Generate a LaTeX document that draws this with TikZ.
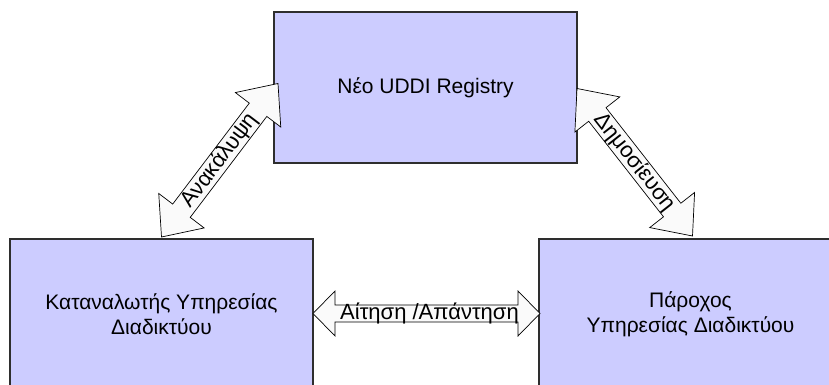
\documentclass[tikz,border=0pt]{standalone}
\usepackage{fontspec}
\setmainfont{Liberation Sans}
\usetikzlibrary{calc}

\definecolor{boxfill}{HTML}{CCCCFF}
\definecolor{boxline}{HTML}{2E2E2E}
\definecolor{arrowfill}{HTML}{FAFAFA}

% Outlined double-headed block arrow between two named points.
% #1 prefix, #2 from, #3 to, #4 head length, #5 head half-width, #6 shaft half-width
\newcommand\blockarrow[6]{%
  \coordinate (#1-a) at ($(#2)!#4!(#3)$);
  \coordinate (#1-b) at ($(#3)!#4!(#2)$);
  \draw[blockarrow] (#2)
    -- ($(#1-a)!#5!90:(#3)$) -- ($(#1-a)!#6!90:(#3)$)
    -- ($(#1-b)!#6!-90:(#2)$) -- ($(#1-b)!#5!-90:(#2)$)
    -- (#3)
    -- ($(#1-b)!#5!90:(#2)$) -- ($(#1-b)!#6!90:(#2)$)
    -- ($(#1-a)!#6!-90:(#3)$) -- ($(#1-a)!#5!-90:(#3)$)
    -- cycle;
}

\begin{document}
\begin{tikzpicture}[x=1pt,y=-1pt,
  service/.style={draw=boxline, line width=1.1pt, fill=boxfill,
    minimum width=303pt, minimum height=151pt, inner sep=0pt, outer sep=0pt,
    align=center, font=\fontsize{21}{25}\selectfont},
  blockarrow/.style={draw=black, line width=0.7pt, fill=arrowfill, line join=miter},
  arrowlabel/.style={font=\fontsize{22}{26}\selectfont, inner sep=0pt}]
\useasboundingbox (0,0) rectangle (829,385);
\clip (0,0) rectangle (829,385);

% the three parties
\node[service] (registry) at (425.5,87.5) {Νέο UDDI Registry};
\node[service] (consumer) at (161.5,314.5) {Καταναλωτής Υπηρεσίας\\Διαδικτύου};
\node[service] (provider) at (690.5,314.5) {Πάροχος\\Υπηρεσίας Διαδικτύου};

% arrow end points
\coordinate (find-lo) at ($(consumer.north)+(0,-2)$);
\coordinate (find-hi) at ($(registry.west)+(4,-4)$);
\coordinate (pub-hi)  at ($(registry.east)+(0,1)$);
\coordinate (pub-lo)  at ($(provider.north)+(2,-3)$);
\coordinate (req-l)   at ($(consumer.east)+(0,-1)$);
\coordinate (req-r)   at ($(provider.west)+(1,-1)$);

% block arrows
\blockarrow{find}{find-lo}{find-hi}{33pt}{28.5pt}{11pt}
\blockarrow{pub}{pub-hi}{pub-lo}{33pt}{28.5pt}{11pt}
\blockarrow{req}{req-l}{req-r}{22pt}{22.5pt}{8.5pt}

% arrow labels
\node[arrowlabel, rotate=52.8] (findlabel) at ($(find-lo)!0.5!(find-hi)$) {Ανακάλυψη};
\node[arrowlabel, rotate=-51.9] (publabel) at ($(pub-hi)!0.5!(pub-lo)$) {Δημοσίευση};
\node[arrowlabel] (reqlabel) at ($($(req-l)!0.5!(req-r)$)+(3,0)$) {Αίτηση /Απάντηση};
\end{tikzpicture}
\end{document}
